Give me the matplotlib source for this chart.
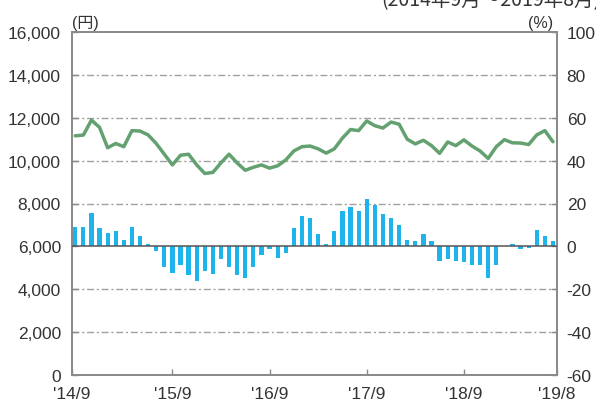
import matplotlib
matplotlib.use("Agg")
import matplotlib.pyplot as plt
from matplotlib.ticker import FuncFormatter

plt.rcParams['font.family'] = ['Liberation Sans', 'Noto Sans CJK JP', 'DejaVu Sans']
plt.rcParams['axes.unicode_minus'] = False

# monthly index 0 = 2014/9 ... 59 = 2019/8
price = [11160, 11190, 11890, 11550, 10600, 10800, 10650, 11400, 11380, 11200,
         10800, 10300, 9800, 10250, 10300, 9800, 9400, 9450, 9900, 10300,
         9890, 9550, 9690, 9800, 9650, 9760, 10030, 10450, 10650, 10680,
         10550, 10350, 10550, 11050, 11450, 11400, 11850, 11630, 11520, 11800,
         11700, 11000, 10780, 10950, 10700, 10340, 10870, 10700, 10970, 10680,
         10450, 10100, 10650, 10980, 10830, 10820, 10750, 11200, 11400, 10880]
change = [8.9, 8.9, 15.5, 8.5, 6.2, 7.3, 3.1, 8.9, 5.0, 1.2,
          -2.3, -9.6, -12.4, -8.6, -13.5, -16.3, -11.4, -12.9, -5.8, -9.8,
          -13.5, -14.8, -9.8, -3.9, -1.1, -5.6, -3.1, 8.6, 14.3, 13.2,
          5.8, 1.1, 7.3, 16.6, 18.2, 16.6, 22.2, 19.1, 15.1, 13.2,
          9.8, 3.1, 2.3, 5.8, 2.3, -6.7, -5.8, -6.7, -7.3, -8.6,
          -8.9, -14.8, -8.9, 0.3, 1.1, -1.2, -0.8, 7.8, 5.0, 2.3]
xtick_labels = ["'14/9", "'15/9", "'16/9", "'17/9", "'18/9", "'19/8"]
left_ticks = list(range(0, 16001, 2000))
right_ticks = list(range(-60, 101, 20))

x = list(range(len(price)))
xmin, xmax = -0.4, 59.5

fig = plt.figure(figsize=(5.96, 4.06), dpi=100)
ax = fig.add_axes([72/596, 30/406, (557-72)/596, (376-33)/406])
ax2 = ax.twinx()

grid_color = '#a0a0a0'
for v in left_ticks[1:-1]:
    if v == 6000:
        continue
    ax.axhline(v, color=grid_color, lw=1.0, ls=(0, (5, 2, 1.5, 2)), zorder=0)

ax.plot(x, price, color='#64a170', lw=2.5, solid_joinstyle='round',
        solid_capstyle='round', zorder=3)
ax2.bar(x, change, width=0.52, color='#1cb4ea', zorder=2)
ax2.axhline(0, color='#555555', lw=1.1, zorder=3)

ax.set_xlim(xmin, xmax)
ax.set_ylim(0, 16000)
ax2.set_ylim(-60, 100)
ax.set_yticks(left_ticks)
ax2.set_yticks(right_ticks)
ax.yaxis.set_major_formatter(FuncFormatter(lambda v, p: f"{int(v):,}"))
ax.set_xticks([xmin, 12, 24, 36, 48, xmax])
ax.set_xticklabels(xtick_labels)

spine_color = '#8a8a8a'
for a in (ax, ax2):
    for s in a.spines.values():
        s.set_color(spine_color)
        s.set_linewidth(1.3)
    a.tick_params(direction='in', length=4, width=1, color=spine_color,
                  labelsize=12.5, labelcolor='#333333')
ax.tick_params(axis='y', pad=8)
ax2.tick_params(axis='y', pad=7)
ax.tick_params(axis='x', pad=8)

fig.text(72/596, 1 - 28/406, '(円)', fontsize=11.5, color='#333333', ha='left', va='baseline')
fig.text(553/596, 1 - 28/406, '(%)', fontsize=11.5, color='#333333', ha='right', va='baseline')
fig.text(600/596, 1 - 6/406, '(2014年9月～2019年8月)', fontsize=14, color='#333333',
         ha='right', va='baseline', family=['Noto Sans CJK JP', 'DejaVu Sans'])

fig.savefig('out.png', dpi=100)
